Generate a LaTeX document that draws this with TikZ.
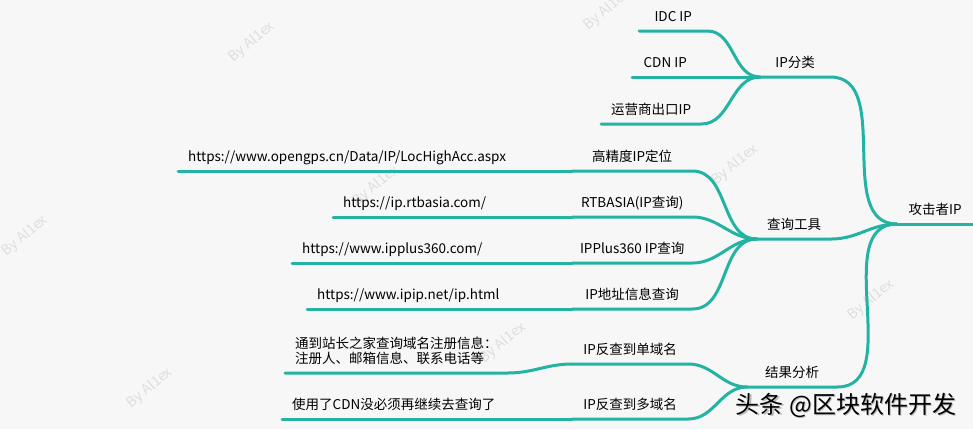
\documentclass[tikz,border=0pt]{standalone}
\usepackage{fontspec}
\setmainfont{Noto Sans CJK SC}
\definecolor{teal1}{HTML}{22B3A3}
\definecolor{paper}{HTML}{F7F7F7}
\definecolor{ghostgray}{HTML}{DEDEDE}
\begin{document}
\begin{tikzpicture}[
x=1pt,y=-1pt,
every node/.style={anchor=south west,inner xsep=0pt,inner ysep=0pt,font=\fontsize{13.5}{15}\selectfont},
topic/.style={text height=10pt,text depth=9pt},
url/.style={topic,inner xsep=10pt},
branch/.style={teal1,line width=3pt,line cap=round},
ghost/.style={anchor=center,text=ghostgray,rotate=40,font=\fontsize{14}{16}\selectfont},
brandtext/.style={anchor=center,font=\fontsize{24}{26}\selectfont},
]
\useasboundingbox (0,0) rectangle (973,429);
\fill[paper] (0,0) rectangle (973,429);

%watermarks
\node[ghost] (wm1) at (252,42) {By Al1ex};
\node[ghost] (wm2) at (607,10) {By Al1ex};
\node[ghost] (wm3) at (25,236) {By Al1ex};
\node[ghost] (wm4) at (150,388) {By Al1ex};
\node[ghost] (wm5) at (376,186) {By Al1ex};
\node[ghost] (wm6) at (735,165) {By Al1ex};
\node[ghost] (wm7) at (503,343) {By Al1ex};
\node[ghost] (wm8) at (871,300) {By Al1ex};

%root
\node[topic,minimum width=76] (root) at (897,224) {攻击者IP};

%first level
\node[topic,minimum width=70] (cls) at (760,77) {IP分类};
\node[topic,minimum width=74] (tool) at (757,239) {查询工具};
\node[topic,minimum width=90] (res) at (747,387) {结果分析};

%IP分类
\node[topic,minimum width=68] (idc) at (639,31) {IDC IP};
\node[topic,minimum width=66] (cdn) at (632,77) {CDN IP};
\node[topic,minimum width=100] (isp) at (601,124) {运营商出口IP};

%查询工具
\node[topic,minimum width=120] (gps) at (572,171) {高精度IP定位};
\node[topic,minimum width=120] (rtb) at (572,217) {RTBASIA(IP查询)};
\node[topic,minimum width=120] (ipplus) at (572,263) {IPPlus360 IP查询};
\node[topic,minimum width=120] (ipip) at (572,309) {IP地址信息查询};
\node[url] (gpsurl) at (178,171) {https://www.opengps.cn/Data/IP/LocHighAcc.aspx};
\node[url] (rtburl) at (333,217) {https://ip.rtbasia.com/};
\node[url] (ipplusurl) at (292,263) {https://www.ipplus360.com/};
\node[url] (ipipurl) at (307,309) {https://www.ipip.net/ip.html};

%结果分析
\node[topic,minimum width=116] (single) at (572,364) {IP反查到单域名};
\node[topic,minimum width=116] (multi) at (572,419) {IP反查到多域名};
\node[inner xsep=10pt,inner ysep=8pt,align=left] (singlenote) at (285,373) {通到站长之家查询域名注册信息：\\注册人、邮箱信息、联系电话等};
\node[url] (multinote) at (282,419) {使用了CDN没必须再继续去查询了};

%branches
\draw[branch] (root.south west) -- (root.south east);
\draw[branch] (cls.south west) -- (cls.south east) to[out=0,in=180] (root.south west);
\draw[branch] (tool.south west) -- (tool.south east) to[out=0,in=180] (root.south west);
\draw[branch] (res.south west) -- (res.south east) to[out=0,in=180] (root.south west);
\draw[branch] (idc.south west) -- (idc.south east) to[out=0,in=180] (cls.south west);
\draw[branch] (cdn.south west) -- (cdn.south east) to[out=0,in=180] (cls.south west);
\draw[branch] (isp.south west) -- (isp.south east) to[out=0,in=180] (cls.south west);
\draw[branch] (gps.south west) -- (gps.south east) to[out=0,in=180] (tool.south west);
\draw[branch] (rtb.south west) -- (rtb.south east) to[out=0,in=180] (tool.south west);
\draw[branch] (ipplus.south west) -- (ipplus.south east) to[out=0,in=180] (tool.south west);
\draw[branch] (ipip.south west) -- (ipip.south east) to[out=0,in=180] (tool.south west);
\draw[branch] (gpsurl.south west) -- (gps.south west);
\draw[branch] (rtburl.south west) -- (rtb.south west);
\draw[branch] (ipplusurl.south west) -- (ipplus.south west);
\draw[branch] (ipipurl.south west) -- (ipip.south west);
\draw[branch] (single.south west) -- (single.south east) to[out=0,in=180] (res.south west);
\draw[branch] (multi.south west) -- (multi.south east) to[out=0,in=180] (res.south west);
\draw[branch] (singlenote.south west) -- (singlenote.south east) to[out=0,in=180] (single.south west);
\draw[branch] (multinote.south west) -- (multi.south west);

%brand
\node[brandtext,text=gray!55] (brandshade) at (847.5,406.5) {头条 @区块软件开发};
\node[brandtext] (brand) at (846,405) {头条 @区块软件开发};
\end{tikzpicture}
\end{document}
